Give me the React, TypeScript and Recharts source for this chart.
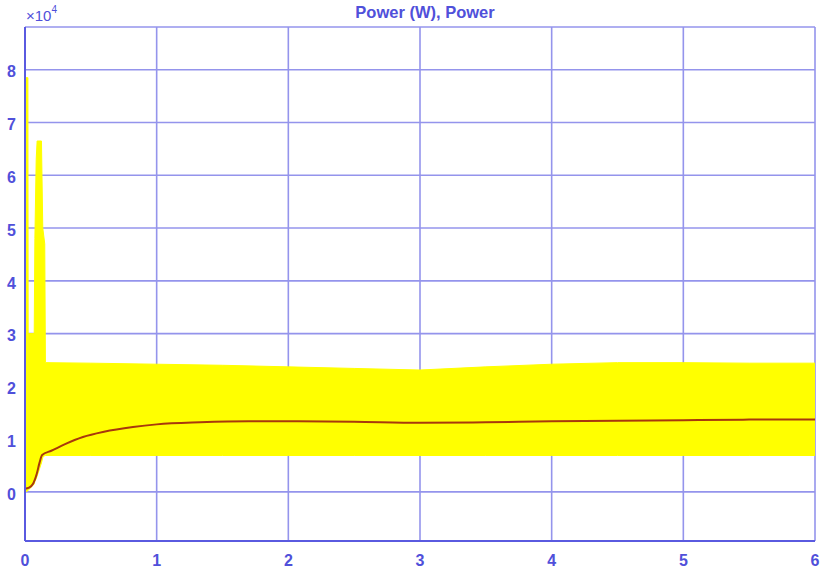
import React from 'react';
import {
  ComposedChart,
  Area,
  Line,
  XAxis,
  YAxis,
  CartesianGrid,
  Customized,
} from 'recharts';

// values in units of 1e4 W, time in s
const bandTime = [
  0, 0.022, 0.024, 0.07, 0.075, 0.085, 0.092, 0.125, 0.135, 0.15, 0.155,
  0.5, 1.0, 1.5, 2.0, 2.5, 3.0, 3.5, 4.0, 4.5, 5.0, 5.5, 6.0,
];
const bandLow = [
  0.0, 0.02, 0.03, 0.15, 0.2, 0.25, 0.3, 0.55, 0.65, 0.69, 0.69,
  0.69, 0.69, 0.69, 0.69, 0.69, 0.69, 0.69, 0.69, 0.69, 0.69, 0.69, 0.69,
];
const bandHigh = [
  7.85, 7.85, 3.0, 3.0, 4.8, 6.3, 6.65, 6.65, 5.0, 4.7, 2.45,
  2.44, 2.42, 2.4, 2.37, 2.34, 2.31, 2.37, 2.42, 2.45, 2.45, 2.44, 2.44,
];

const meanTime = [
  0, 0.03, 0.06, 0.09, 0.11, 0.13, 0.2, 0.3, 0.44, 0.6, 0.82, 1.0, 1.33,
  1.7, 2.0, 2.5, 3.0, 3.5, 4.0, 4.5, 5.0, 5.5, 6.0,
];
const meanPower = [
  0.06, 0.08, 0.15, 0.35, 0.55, 0.7, 0.78, 0.9, 1.04, 1.14, 1.23, 1.28, 1.32,
  1.34, 1.34, 1.33, 1.31, 1.32, 1.34, 1.35, 1.36, 1.37, 1.37,
];

const xTicks = [0, 1, 2, 3, 4, 5, 6];
const yTicks = [0, 1, 2, 3, 4, 5, 6, 7, 8];

const bandData = bandTime.map((t, i) => ({ t, range: [bandLow[i], bandHigh[i]] }));
const meanData = meanTime.map((t, i) => ({ t, p: meanPower[i] }));

const BLUE = '#5050da';
const AXIS = '#5a5ae0';
const GRID = '#9494ec';
const FONT = '"Liberation Sans", Arial, sans-serif';

const Decorations = () => (
  <g fontFamily={FONT} fill={BLUE}>
    <text x={425} y={18} textAnchor="middle" fontSize={16.5} fontWeight="bold">
      Power (W), Power
    </text>
    <text x={26} y={21} fontSize={15}>
      ×10
      <tspan dy={-8} fontSize={10}>4</tspan>
    </text>
  </g>
);

export default function App() {
  return (
    <div style={{ position: 'absolute', left: 0, top: 0, background: '#fff' }}>
      <ComposedChart
        width={820}
        height={573}
        margin={{ top: 27, right: 5, left: 0, bottom: 0 }}
      >
        <CartesianGrid xAxisId="b" yAxisId="l" stroke={GRID} strokeWidth={1.6} />
        <XAxis
          xAxisId="b"
          dataKey="t"
          type="number"
          domain={[0, 6]}
          ticks={xTicks}
          height={32}
          tickLine={false}
          tickSize={6}
          tickMargin={8}
          axisLine={{ stroke: AXIS, strokeWidth: 2 }}
          tick={{ fill: BLUE, fontSize: 16, fontFamily: FONT, fontWeight: 'bold' }}
          allowDataOverflow
        />
        <XAxis
          xAxisId="top"
          orientation="top"
          type="number"
          domain={[0, 6]}
          height={0}
          tick={false}
          tickLine={false}
          axisLine={{ stroke: AXIS, strokeWidth: 2 }}
        />
        <YAxis
          yAxisId="l"
          type="number"
          domain={[-0.93, 8.81]}
          ticks={yTicks}
          width={25}
          tickLine={false}
          tickSize={6}
          tickMargin={3}
          axisLine={{ stroke: AXIS, strokeWidth: 2 }}
          tick={{ fill: BLUE, fontSize: 16, fontFamily: FONT, fontWeight: 'bold', dy: 2 }}
          allowDataOverflow
        />
        <YAxis
          yAxisId="r"
          orientation="right"
          type="number"
          domain={[-0.93, 8.81]}
          width={0}
          tick={false}
          tickLine={false}
          axisLine={{ stroke: AXIS, strokeWidth: 2 }}
        />
        <Area
          xAxisId="b"
          yAxisId="l"
          data={bandData}
          dataKey="range"
          type="linear"
          stroke="#ffff00"
          strokeWidth={1}
          fill="#ffff00"
          fillOpacity={1}
          isAnimationActive={false}
          dot={false}
          activeDot={false}
        />
        <Line
          xAxisId="b"
          yAxisId="l"
          data={meanData}
          dataKey="p"
          type="monotone"
          stroke="#a8380c"
          strokeWidth={2}
          dot={false}
          activeDot={false}
          isAnimationActive={false}
        />
        <Customized component={Decorations} />
      </ComposedChart>
    </div>
  );
}
